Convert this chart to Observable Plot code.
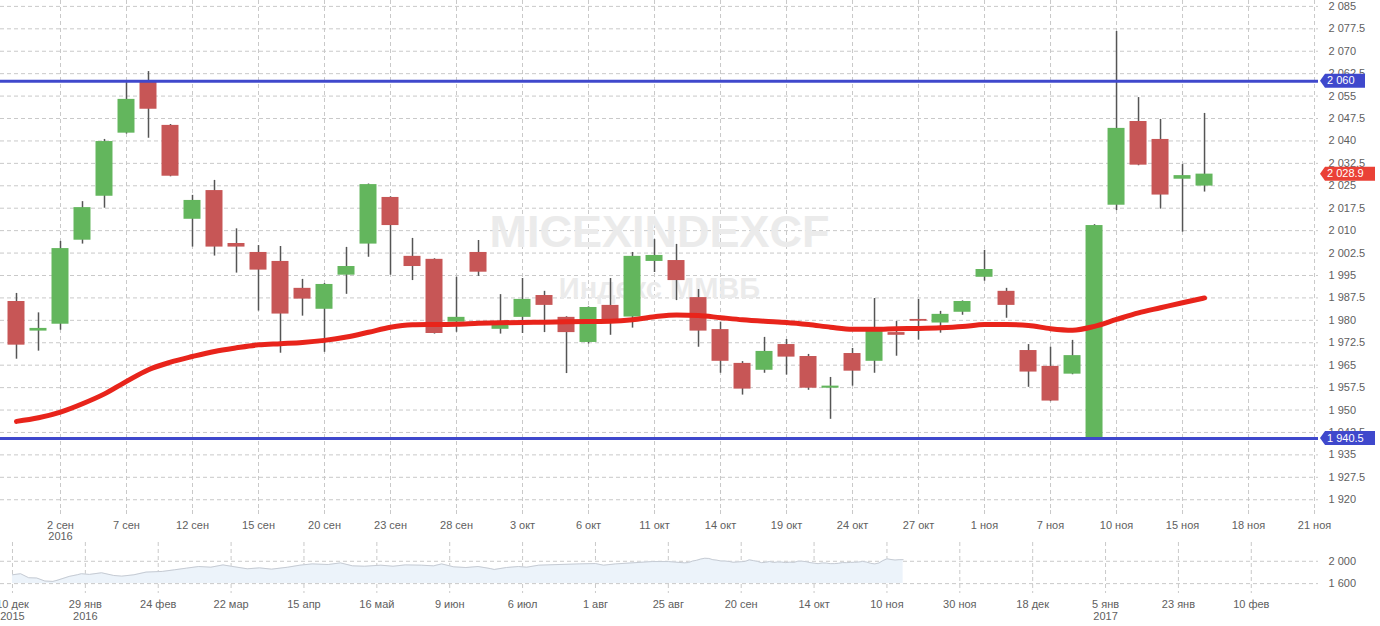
<!DOCTYPE html>
<html><head><meta charset="utf-8">
<script src="https://cdn.jsdelivr.net/npm/d3@7"></script>
<script src="https://cdn.jsdelivr.net/npm/@observablehq/plot@0.6"></script>
<style>
body{margin:0;background:#fff;}
#chart svg{display:block;}
</style></head><body><div id="chart"></div>
<script>
// ---- Data: daily candles 31 Aug 2016 .. 16 Nov 2016 (trading-day slots 0..54)
const opens  = [1986.3,1976.4,1978.7,2006.8,2021.5,2042.6,2059.6,2045.2,2013.8,2023.4,2005.7,2002.7,1999.7,1990.7,1983.7,1995.1,2005.5,2021.1,2001.4,2000.4,1979.4,2002.7,1977.0,1981.0,1988.3,1981.0,1972.6,1985.0,1981.1,1999.7,2000.0,1987.6,1976.9,1965.6,1963.3,1971.9,1967.9,1957.3,1968.9,1966.3,1975.9,1980.3,1979.1,1982.7,1994.4,1989.7,1969.9,1964.6,1962.0,1940.5,2018.5,2046.5,2040.5,2027.2,2024.9];
const highs  = [1989.0,1982.5,2006.4,2019.7,2040.5,2059.5,2063.2,2045.5,2021.8,2026.8,2010.6,2005.0,2004.7,1993.7,1992.3,2004.4,2025.6,2021.3,2007.4,2000.6,1994.4,2006.7,1988.6,1994.0,1989.7,1981.2,1984.5,1994.0,2002.7,2007.0,2005.4,1990.3,1979.4,1966.2,1974.3,1973.6,1968.6,1960.9,1970.6,1987.3,1979.6,1987.0,1983.0,1986.5,2003.4,1990.7,1971.9,1971.0,1973.3,2012.0,2076.6,2054.5,2047.2,2032.1,2049.2];
const lows   = [1967.0,1969.7,1976.7,2005.5,2017.5,2042.3,2040.9,2028.0,2004.5,2001.5,1995.8,1983.1,1969.0,1981.4,1969.3,1988.7,2001.1,1995.1,1993.3,1975.4,1976.0,1994.7,1975.4,1975.6,1975.9,1962.2,1972.1,1975.0,1977.4,1996.0,1986.6,1971.0,1962.3,1955.0,1962.3,1961.7,1956.6,1946.9,1958.0,1962.3,1968.0,1973.4,1975.7,1981.7,1993.1,1980.7,1957.6,1952.8,1961.8,1940.5,2016.7,2031.7,2017.2,2009.5,2022.9];
const closes = [1971.7,1977.3,2004.0,2017.7,2039.8,2053.9,2050.6,2028.2,2020.1,2004.5,2004.5,1996.8,1982.1,1987.1,1992.0,1998.0,2025.4,2011.7,1998.0,1975.6,1981.0,1996.1,1978.6,1987.0,1985.0,1975.9,1984.3,1979.0,2001.4,2001.7,1993.3,1976.4,1966.3,1957.0,1969.6,1967.7,1957.3,1958.0,1963.0,1976.6,1975.0,1979.7,1982.0,1986.3,1997.0,1985.0,1962.7,1953.0,1968.2,2011.7,2044.2,2031.9,2021.9,2028.4,2028.9];
const movingAvg = [1946.2,1947.4,1949.3,1952.1,1955.4,1959.6,1963.5,1966.0,1967.9,1969.6,1970.8,1971.8,1972.2,1972.6,1973.3,1974.4,1976.0,1977.7,1978.5,1978.6,1978.7,1979.0,1979.2,1979.3,1979.4,1979.5,1979.6,1979.7,1980.2,1981.2,1981.8,1981.6,1980.9,1980.2,1979.7,1979.3,1978.6,1977.7,1977.0,1977.0,1977.2,1977.3,1977.5,1977.9,1978.6,1978.6,1978.3,1977.2,1976.7,1978.0,1980.3,1982.5,1984.2,1985.9,1987.5];

const xTickSlots  = [2,5,8,11,14,17,20,23,26,29,32,35,38,41,44,47,50,53,56,59];
const xTickLabels = ["2 сен\n2016","7 сен","12 сен","15 сен","20 сен","23 сен","28 сен","3 окт","6 окт","11 окт","14 окт","19 окт","24 окт","27 окт","1 ноя","7 ноя","10 ноя","15 ноя","18 ноя","21 ноя"];
const yTicks = [1920,1927.5,1935,1942.5,1950,1957.5,1965,1972.5,1980,1987.5,1995,2002.5,2010,2017.5,2025,2032.5,2040,2047.5,2055,2062.5,2070,2077.5,2085];
const levelLines = [2060, 1940.5];
const lastPrice = 2028.9;
const watermarkTitle = "MICEXINDEXCF";
const watermarkSub = "Индекс ММВБ";

// ---- Navigator (overview) data
const navPreSlots  = [-166,-164,-162,-160,-158,-156,-155,-152,-150,-149,-147,-144,-141,-139,-136,-133,-129,-126,-123,-120,-117,-114,-112,-108,-105,-102,-98,-95,-92,-88,-85,-82,-79,-75,-72,-69,-65,-62,-60,-57,-54,-51,-48,-47,-44,-41,-39,-36,-31,-26,-22,-20,-17,-12,-8,-4];
const navPreValues = [1758,1777,1705,1700,1646,1640,1658,1729,1758,1777,1765,1794,1746,1734,1758,1806,1818,1847,1877,1906,1894,1935,1911,1865,1882,1859,1894,1930,1953,1942,1971,1918,1911,1930,1911,1935,1930,1918,1953,1900,1888,1906,1870,1853,1888,1906,1894,1930,1942,1953,1959,1930,1953,1976,1995,1995];
const navTickSlots  = [-166,-148,-130,-112,-94,-76,-58,-40,-22,-4,14,32,50,68,86,104,122,140];
const navTickLabels = ["10 дек\n2015","29 янв\n2016","24 фев","22 мар","15 апр","16 май","9 июн","6 июл","1 авг","25 авг","20 сен","14 окт","10 ноя","30 ноя","18 дек","5 янв\n2017","23 янв","10 фев"];
const navYTicks = [1600, 2000];

// ---- Build
const fmt = d3.formatLocale({decimal: ".", thousands: " ", grouping: [3], currency: ["", ""]}).format(",");
const candles = opens.map((o, i) => ({i, open: o, high: highs[i], low: lows[i], close: closes[i], ma: movingAvg[i], up: closes[i] >= o}));
const xLabel = new Map(xTickSlots.map((s, k) => [s, xTickLabels[k]]));
const navLabel = new Map(navTickSlots.map((s, k) => [s, navTickLabels[k]]));
const navData = navPreSlots.map((s, k) => ({slot: s, value: navPreValues[k]}))
  .concat(closes.map((c, i) => ({slot: i, value: c})));

const font = "'Liberation Sans', Arial, sans-serif";
const gridStyle = {stroke: "#c9c9c9", strokeDasharray: "4,3"};

function tag(value, color) {
  return (index, scales, values, dimensions) => {
    const y = scales.y(value);
    const x0 = dimensions.width - dimensions.marginRight + 2;
    const label = fmt(value);
    const w = 20 + 5 * label.length;
    const g = d3.create("svg:g");
    g.append("path")
      .attr("d", `M${x0},${y} L${x0 + 5},${y - 7} H${x0 + w} V${y + 7} H${x0 + 5} Z`)
      .attr("fill", color);
    g.append("text")
      .attr("x", x0 + 7).attr("y", y).attr("dy", "0.35em")
      .attr("text-anchor", "start")
      .attr("fill", "#fff").attr("font-size", 11).attr("font-family", font)
      .text(label);
    return g.node();
  };
}

const main = Plot.plot({
  width: 1380, height: 540,
  marginLeft: 0, marginRight: 62, marginTop: 0, marginBottom: 30,
  style: {fontFamily: font, fontSize: "11px", color: "#606060", background: "#fff", overflow: "visible"},
  x: {type: "linear", domain: [-0.727, 59.18], axis: null, label: null},
  y: {domain: [1916.4, 2086.97], axis: null, label: null},
  marks: [
    Plot.ruleY(yTicks, gridStyle),
    Plot.ruleX(xTickSlots, gridStyle),
    Plot.text([watermarkTitle], {frameAnchor: "middle", dy: -23, fontSize: 45, fontWeight: "bold", fill: "#ebebeb"}),
    Plot.text([watermarkSub], {frameAnchor: "middle", dy: 33, fontSize: 29, fontWeight: "bold", fill: "#ebebeb"}),
    Plot.ruleX(candles, {x: "i", y1: "low", y2: "high", stroke: "#555", strokeWidth: 1.5}),
    Plot.rect(candles, {x1: d => d.i - 0.386, x2: d => d.i + 0.386, y1: "open", y2: "close", fill: d => d.up ? "#63b65d" : "#c75656"}),
    Plot.line(candles, {x: "i", y: "ma", stroke: "#e8241b", strokeWidth: 5, curve: "monotone-x"}),
    Plot.ruleY(levelLines, {stroke: "#3f48cc", strokeWidth: 3}),
    Plot.axisX(xTickSlots, {anchor: "bottom", label: null, tickSize: 4, stroke: "#c9c9c9", tickPadding: 6, tickFormat: d => xLabel.get(d), lineHeight: 1.05, fill: "#606060"}),
    Plot.axisY(yTicks, {anchor: "right", label: null, tickSize: 0, tickPadding: 10, tickFormat: fmt, fill: "#606060"}),
    tag(levelLines[0], "#3f48cc"),
    tag(levelLines[1], "#3f48cc"),
    tag(lastPrice, "#ea4136")
  ]
});

const nav = Plot.plot({
  width: 1380, height: 86,
  marginLeft: 0, marginRight: 62, marginTop: 2, marginBottom: 33,
  style: {fontFamily: font, fontSize: "11px", color: "#606060", background: "transparent"},
  x: {type: "linear", domain: [-168.96, 156.6], axis: null, label: null},
  y: {domain: [1423, 2336], axis: null, label: null},
  marks: [
    Plot.ruleY(navYTicks, gridStyle),
    Plot.ruleX(navTickSlots, gridStyle),
    Plot.areaY(navData, {x: "slot", y1: 1600, y2: "value", fill: "#ecf3fa"}),
    Plot.lineY(navData, {x: "slot", y: "value", stroke: "#c6cbd3", strokeWidth: 1}),
    Plot.axisX(navTickSlots, {anchor: "bottom", label: null, tickSize: 0, tickPadding: 6, tickFormat: d => navLabel.get(d), lineHeight: 1.1, fill: "#606060"}),
    Plot.axisY(navYTicks, {anchor: "right", label: null, tickSize: 0, tickPadding: 10, tickFormat: fmt, fill: "#606060"})
  ]
});

document.getElementById("chart").append(main, nav);
</script></body></html>
